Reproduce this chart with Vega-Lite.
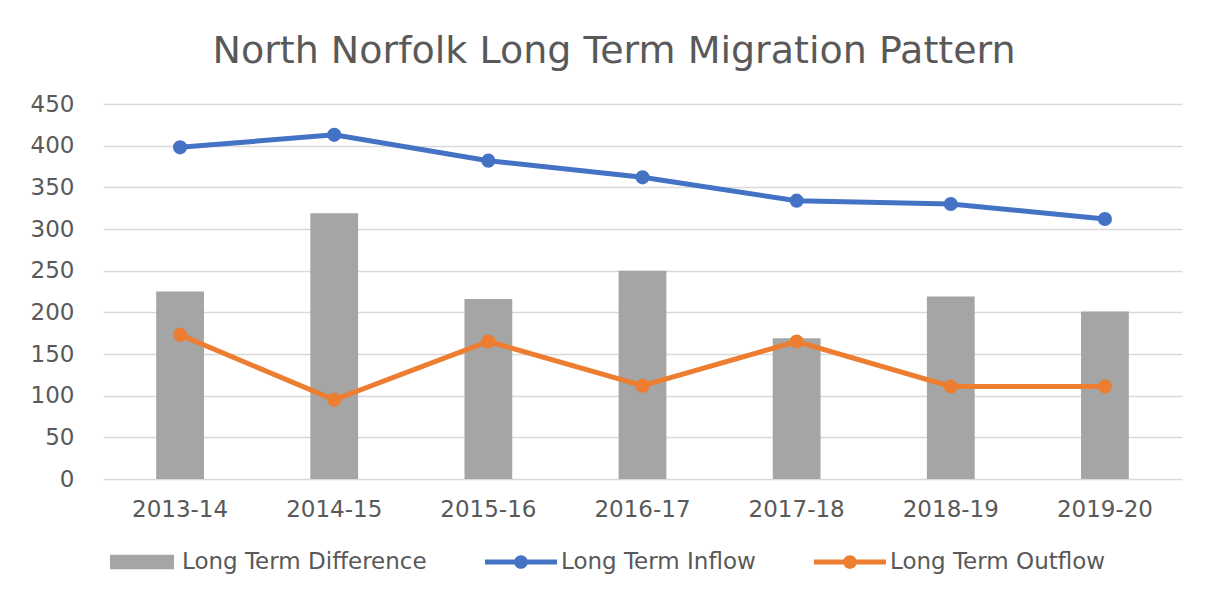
{
  "$schema": "https://vega.github.io/schema/vega-lite/v6.json",
  "width": 1079,
  "height": 375,
  "autosize": "none",
  "padding": {"left": 103, "top": 104, "right": 34, "bottom": 122},
  "background": "white",
  "title": {
    "text": "North Norfolk Long Term Migration Pattern",
    "font": "DejaVu Sans",
    "fontSize": 38,
    "fontWeight": "normal",
    "color": "#595959",
    "anchor": "middle",
    "frame": "bounds",
    "baseline": "alphabetic",
    "offset": 42,
    "dy": 50,
    "dx": 8
  },
  "config": {
    "view": {"stroke": null},
    "font": "DejaVu Sans"
  },
  "data": {
    "values": [
      {"year": "2013-14", "series": "Long Term Difference", "value": 225},
      {"year": "2014-15", "series": "Long Term Difference", "value": 319},
      {"year": "2015-16", "series": "Long Term Difference", "value": 216},
      {"year": "2016-17", "series": "Long Term Difference", "value": 250},
      {"year": "2017-18", "series": "Long Term Difference", "value": 169},
      {"year": "2018-19", "series": "Long Term Difference", "value": 219},
      {"year": "2019-20", "series": "Long Term Difference", "value": 201},
      {"year": "2013-14", "series": "Long Term Inflow", "value": 398},
      {"year": "2014-15", "series": "Long Term Inflow", "value": 413},
      {"year": "2015-16", "series": "Long Term Inflow", "value": 382},
      {"year": "2016-17", "series": "Long Term Inflow", "value": 362},
      {"year": "2017-18", "series": "Long Term Inflow", "value": 334},
      {"year": "2018-19", "series": "Long Term Inflow", "value": 330},
      {"year": "2019-20", "series": "Long Term Inflow", "value": 312},
      {"year": "2013-14", "series": "Long Term Outflow", "value": 173},
      {"year": "2014-15", "series": "Long Term Outflow", "value": 95},
      {"year": "2015-16", "series": "Long Term Outflow", "value": 165},
      {"year": "2016-17", "series": "Long Term Outflow", "value": 112},
      {"year": "2017-18", "series": "Long Term Outflow", "value": 165},
      {"year": "2018-19", "series": "Long Term Outflow", "value": 111},
      {"year": "2019-20", "series": "Long Term Outflow", "value": 111}
    ]
  },
  "encoding": {
    "x": {
      "field": "year",
      "type": "nominal",
      "scale": {"type": "band", "paddingInner": 0, "paddingOuter": 0},
      "axis": {
        "title": null,
        "labelAngle": 0,
        "labelFont": "DejaVu Sans",
        "labelFontSize": 23,
        "labelColor": "#595959",
        "labelPadding": 19,
        "ticks": false,
        "domain": false,
        "grid": false
      }
    },
    "y": {
      "field": "value",
      "type": "quantitative",
      "scale": {"domain": [0, 450], "nice": false},
      "axis": {
        "title": null,
        "values": [0, 50, 100, 150, 200, 250, 300, 350, 400, 450],
        "labelFont": "DejaVu Sans",
        "labelFontSize": 23,
        "labelColor": "#595959",
        "labelPadding": 29,
        "ticks": false,
        "domain": false,
        "grid": true,
        "gridColor": "#D9D9D9",
        "gridWidth": 1.5
      }
    },
    "color": {
      "field": "series",
      "type": "nominal",
      "scale": {
        "domain": ["Long Term Difference", "Long Term Inflow", "Long Term Outflow"],
        "range": ["#A5A5A5", "#4472C4", "#ED7D31"]
      },
      "legend": {
        "title": null,
        "orient": "none",
        "direction": "horizontal",
        "legendX": 3,
        "legendY": 422,
        "symbolSize": 5184,
        "labelFont": "DejaVu Sans",
        "labelFontSize": 23,
        "labelColor": "#595959",
        "labelOffset": 4,
        "labelLimit": 0,
        "columnPadding": 58,
        "encode": {
          "symbols": {
            "update": {
              "shape": {"signal": "datum.value === 'Long Term Difference' ? 'M-0.89,-0.2H0.89V0.2H-0.89Z' : 'M-1,-0.07H1V0.07H-1Z M-0.19,0A0.19,0.19,0,1,1,0.19,0A0.19,0.19,0,1,1,-0.19,0Z'"},
              "fill": {"signal": "scale('color', datum.value)"},
              "stroke": {"value": "transparent"},
              "strokeWidth": {"value": 0},
              "opacity": {"value": 1}
            }
          }
        }
      }
    }
  },
  "layer": [
    {
      "transform": [{"filter": "datum.series === 'Long Term Difference'"}],
      "mark": {"type": "bar", "width": {"band": 0.31}}
    },
    {
      "transform": [{"filter": "datum.series !== 'Long Term Difference'"}],
      "mark": {"type": "line", "strokeWidth": 5, "point": {"filled": true, "size": 200, "opacity": 1}}
    }
  ]
}
